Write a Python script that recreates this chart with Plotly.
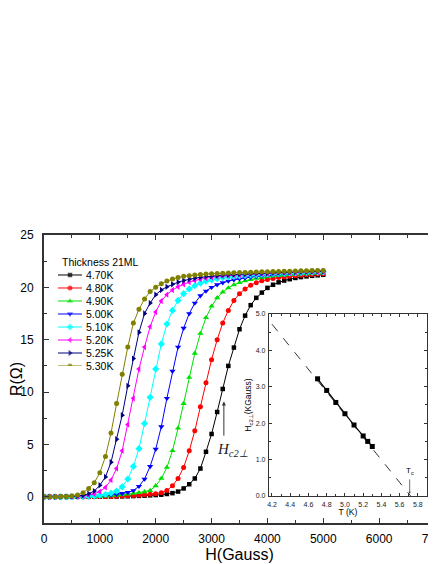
import plotly.graph_objects as go

# field values (Gauss), one point every 100 G
H = [0, 100, 200, 300, 400, 500, 600, 700, 800, 900,
     1000, 1100, 1200, 1300, 1400, 1500, 1600, 1700, 1800, 1900,
     2000, 2100, 2200, 2300, 2400, 2500, 2600, 2700, 2800, 2900,
     3000, 3100, 3200, 3300, 3400, 3500, 3600, 3700, 3800, 3900,
     4000, 4100, 4200, 4300, 4400, 4500, 4600, 4700, 4800, 4900, 5000]

r_470 = [0, 0, 0, 0, 0, 0, 0, 0, 0, 0.01,
         0.01, 0.02, 0.02, 0.03, 0.04, 0.05, 0.07, 0.09, 0.11, 0.14,
         0.17, 0.20, 0.27, 0.35, 0.50, 0.80, 1.20, 1.75, 2.70, 4.30,
         6.00, 8.10, 10.30, 12.50, 14.25, 16.00, 17.30, 18.30, 19.00, 19.50,
         19.95, 20.25, 20.48, 20.65, 20.78, 20.90, 20.98, 21.05, 21.10, 21.15, 21.20]
r_480 = [0, 0, 0, 0, 0, 0, 0, 0, 0.01, 0.01,
         0.02, 0.03, 0.04, 0.06, 0.08, 0.10, 0.13, 0.16, 0.20, 0.25,
         0.30, 0.40, 0.60, 1.05, 1.75, 2.80, 4.40, 6.30, 8.60, 10.90,
         13.10, 15.00, 16.60, 17.80, 18.75, 19.40, 19.85, 20.20, 20.45, 20.62,
         20.75, 20.85, 20.93, 21.00, 21.06, 21.11, 21.16, 21.20, 21.24, 21.27, 21.30]
r_490 = [0, 0, 0, 0, 0, 0, 0, 0.01, 0.02, 0.03,
         0.05, 0.07, 0.10, 0.14, 0.19, 0.25, 0.32, 0.40, 0.48, 0.60,
         1.05, 1.75, 2.80, 4.40, 6.55, 8.90, 11.40, 13.70, 15.60, 17.10,
         18.20, 19.00, 19.55, 19.95, 20.25, 20.45, 20.62, 20.75, 20.85, 20.94,
         21.01, 21.07, 21.12, 21.17, 21.21, 21.25, 21.28, 21.31, 21.34, 21.36, 21.38]
r_500 = [0, 0, 0, 0, 0, 0, 0.01, 0.02, 0.03, 0.05,
         0.08, 0.12, 0.17, 0.24, 0.32, 0.42, 0.60, 1.00, 1.70, 2.90,
         4.55, 6.70, 9.40, 12.00, 14.30, 16.10, 17.50, 18.50, 19.20, 19.65,
         20.00, 20.25, 20.45, 20.60, 20.72, 20.82, 20.90, 20.97, 21.03, 21.08,
         21.13, 21.17, 21.21, 21.25, 21.28, 21.31, 21.34, 21.37, 21.39, 21.41, 21.43]
r_510 = [0, 0, 0, 0, 0, 0.01, 0.02, 0.03, 0.05, 0.09,
         0.15, 0.22, 0.35, 0.55, 0.95, 1.70, 2.90, 4.60, 7.00, 9.50,
         12.20, 14.60, 16.50, 17.80, 18.75, 19.40, 19.85, 20.15, 20.40, 20.58,
         20.72, 20.83, 20.92, 20.99, 21.05, 21.10, 21.14, 21.18, 21.21, 21.24,
         21.27, 21.30, 21.32, 21.34, 21.36, 21.38, 21.40, 21.42, 21.44, 21.45, 21.47]
r_520 = [0, 0, 0, 0, 0.01, 0.02, 0.04, 0.08, 0.15, 0.28,
         0.50, 0.90, 1.60, 2.70, 4.40, 6.90, 9.40, 12.20, 14.30, 16.25,
         17.65, 18.70, 19.30, 19.75, 20.05, 20.30, 20.50, 20.65, 20.78, 20.88,
         20.96, 21.03, 21.08, 21.13, 21.17, 21.20, 21.23, 21.26, 21.29, 21.31,
         21.33, 21.35, 21.37, 21.39, 21.41, 21.43, 21.45, 21.46, 21.48, 21.49, 21.51]
r_525 = [0, 0, 0, 0.01, 0.02, 0.04, 0.08, 0.15, 0.30, 0.55,
         1.10, 1.90, 3.30, 5.50, 7.80, 10.60, 13.20, 15.70, 17.50, 18.50,
         19.30, 19.75, 20.05, 20.30, 20.50, 20.65, 20.78, 20.88, 20.96, 21.03,
         21.08, 21.13, 21.17, 21.20, 21.23, 21.26, 21.28, 21.31, 21.33, 21.35,
         21.37, 21.39, 21.41, 21.43, 21.45, 21.47, 21.48, 21.50, 21.51, 21.53, 21.54]
r_530 = [0, 0, 0.01, 0.02, 0.04, 0.08, 0.18, 0.40, 0.80, 1.35,
         2.30, 3.85, 6.10, 8.90, 11.70, 14.30, 16.60, 17.90, 18.90, 19.60,
         20.00, 20.35, 20.60, 20.80, 20.95, 21.05, 21.12, 21.18, 21.23, 21.27,
         21.30, 21.33, 21.35, 21.37, 21.39, 21.41, 21.43, 21.45, 21.46, 21.48,
         21.49, 21.51, 21.52, 21.54, 21.55, 21.56, 21.58, 21.59, 21.60, 21.61, 21.62]

temps = ["4.70K", "4.80K", "4.90K", "5.00K", "5.10K", "5.20K", "5.25K", "5.30K"]
curves = [r_470, r_480, r_490, r_500, r_510, r_520, r_525, r_530]
colors = ["#000000", "#FF0000", "#00E000", "#0000FF", "#00FFFF", "#FF00FF", "#000080", "#808000"]
symbols = ["square", "circle", "triangle-up", "triangle-down", "diamond",
           "triangle-left", "triangle-right", "circle"]
sizes = [4.5, 5, 5.5, 5.5, 5.5, 5.5, 5.5, 5]

# inset: upper critical field vs temperature
T_inset = [4.70, 4.80, 4.90, 5.00, 5.10, 5.20, 5.25, 5.30]
Hc2_inset = [3.22, 2.90, 2.57, 2.26, 1.95, 1.65, 1.50, 1.36]
T_fit = [4.20, 5.72]
Hc2_fit = [4.72, 0.0]

FONT = "Arial, Liberation Sans, sans-serif"
LINE = "#333333"

fig = go.Figure()

for name, r, c, s, sz in zip(temps, curves, colors, symbols, sizes):
    fig.add_trace(go.Scatter(
        x=H, y=r, mode="lines+markers", name=name,
        line=dict(color=c, width=1),
        marker=dict(symbol=s, size=sz, color=c, line=dict(width=0)),
        xaxis="x", yaxis="y"
    ))

# inset traces
fig.add_trace(go.Scatter(
    x=T_fit, y=Hc2_fit, mode="lines",
    line=dict(color="black", width=0.8, dash="dash"),
    xaxis="x2", yaxis="y2"
))
fig.add_trace(go.Scatter(
    x=T_inset, y=Hc2_inset, mode="lines+markers",
    line=dict(color="black", width=1.2),
    marker=dict(symbol="square", size=5, color="black"),
    xaxis="x2", yaxis="y2"
))

# hand-made legend (rows 0..7 in a hidden axis)
for i, (name, c, s, sz) in enumerate(zip(temps, colors, symbols, sizes)):
    fig.add_trace(go.Scatter(
        x=[0, 1, 2], y=[i, i, i], mode="lines+markers",
        line=dict(color=c, width=1),
        marker=dict(symbol=s, size=[0, sz, 0], color=c, line=dict(width=0)),
        xaxis="x3", yaxis="y3", hoverinfo="skip"
    ))

annotations = [
    dict(x=0.17, y=-1, xref="x3", yref="y3", text="Thickness 21ML",
         showarrow=False, xanchor="left", yanchor="middle",
         font=dict(family=FONT, size=10.5, color="black")),
]
for i, name in enumerate(temps):
    annotations.append(dict(
        x=2, y=i, xref="x3", yref="y3", text=name, showarrow=False,
        xanchor="left", yanchor="middle", xshift=2,
        font=dict(family=FONT, size=10.5, color="black")))

# Hc2 marker on the 4.70K curve
annotations.append(dict(
    x=3220, y=9.1, ax=3220, ay=5.7, xref="x", yref="y", axref="x", ayref="y",
    text="", showarrow=True, arrowhead=2, arrowsize=0.8, arrowwidth=1,
    arrowcolor="#333333"))
annotations.append(dict(
    x=3370, y=4.5, xref="x", yref="y", text="<i>H<sub>c2⊥</sub></i>",
    showarrow=False, font=dict(family="Liberation Serif, Times New Roman, serif",
                               size=15, color="#222222")))

# Tc arrow in inset
annotations.append(dict(
    x=5.71, y=0.06, ax=5.71, ay=0.5, xref="x2", yref="y2", axref="x2", ayref="y2",
    text="", showarrow=True, arrowhead=2, arrowsize=0.6, arrowwidth=0.7,
    arrowcolor="#333333"))
annotations.append(dict(
    x=5.71, y=0.68, xref="x2", yref="y2", text="T<sub>c</sub>",
    showarrow=False, font=dict(family=FONT, size=8, color="black")))

axis_style = dict(showgrid=False, zeroline=False, showline=True, linecolor=LINE,
                  mirror="ticks", ticks="inside", tickcolor=LINE, automargin=False)

# page body has an 8px margin, so the figure is 8px smaller than the window
fig.update_layout(
    width=428, height=556,
    margin=dict(l=36, r=1, t=227, b=41),
    paper_bgcolor="white", plot_bgcolor="white",
    showlegend=False,
    font=dict(family=FONT, color="black"),
    xaxis=dict(axis_style, range=[0, 7000], dtick=1000, ticklen=5, tickwidth=1.2,
               linewidth=1.8, domain=[0, 1], anchor="y",
               minor=dict(ticks="inside", ticklen=3, dtick=500, tickcolor=LINE),
               tickfont=dict(size=12), ticklabelstandoff=4, ticklabeloverflow="allow",
               title=dict(text="H(Gauss)", font=dict(size=16), standoff=2)),
    yaxis=dict(axis_style, range=[-2.5, 25], dtick=5, ticklen=5, tickwidth=1.2,
               linewidth=1.8, domain=[0, 1], anchor="x",
               minor=dict(ticks="inside", ticklen=3, dtick=2.5, tickcolor=LINE),
               tickfont=dict(size=12), ticklabelstandoff=6,
               title=dict(text="R(Ω)", font=dict(size=16), standoff=6)),
    xaxis2=dict(axis_style, range=[4.167, 5.9], dtick=0.2, tick0=4.2, ticklen=3,
                linewidth=1.2, domain=[0.5754, 0.9795], anchor="y2",
                minor=dict(ticks="inside", ticklen=2, dtick=0.1, tickcolor=LINE),
                tickformat=".1f", tickfont=dict(size=7, color="#222222"), ticklabelstandoff=1,
                title=dict(text="T (K)", font=dict(size=8.5), standoff=1)),
    yaxis2=dict(axis_style, range=[0, 5], dtick=1, ticklen=3,
                linewidth=1.2, domain=[0.09375, 0.7257], anchor="x2",
                minor=dict(ticks="inside", ticklen=2, dtick=0.5, tickcolor=LINE),
                tickformat=".1f", tickfont=dict(size=7, color="#222222"), ticklabelstandoff=1,
                title=dict(text="H<sub>c2⊥</sub>(KGauss)", font=dict(size=8.5), standoff=2)),
    xaxis3=dict(visible=False, range=[0, 2], domain=[0.0358, 0.0972], anchor="y3"),
    yaxis3=dict(visible=False, range=[7, -1], domain=[0.5451, 0.9063], anchor="x3"),
    annotations=annotations,
)

fig.write_html("out.html")
